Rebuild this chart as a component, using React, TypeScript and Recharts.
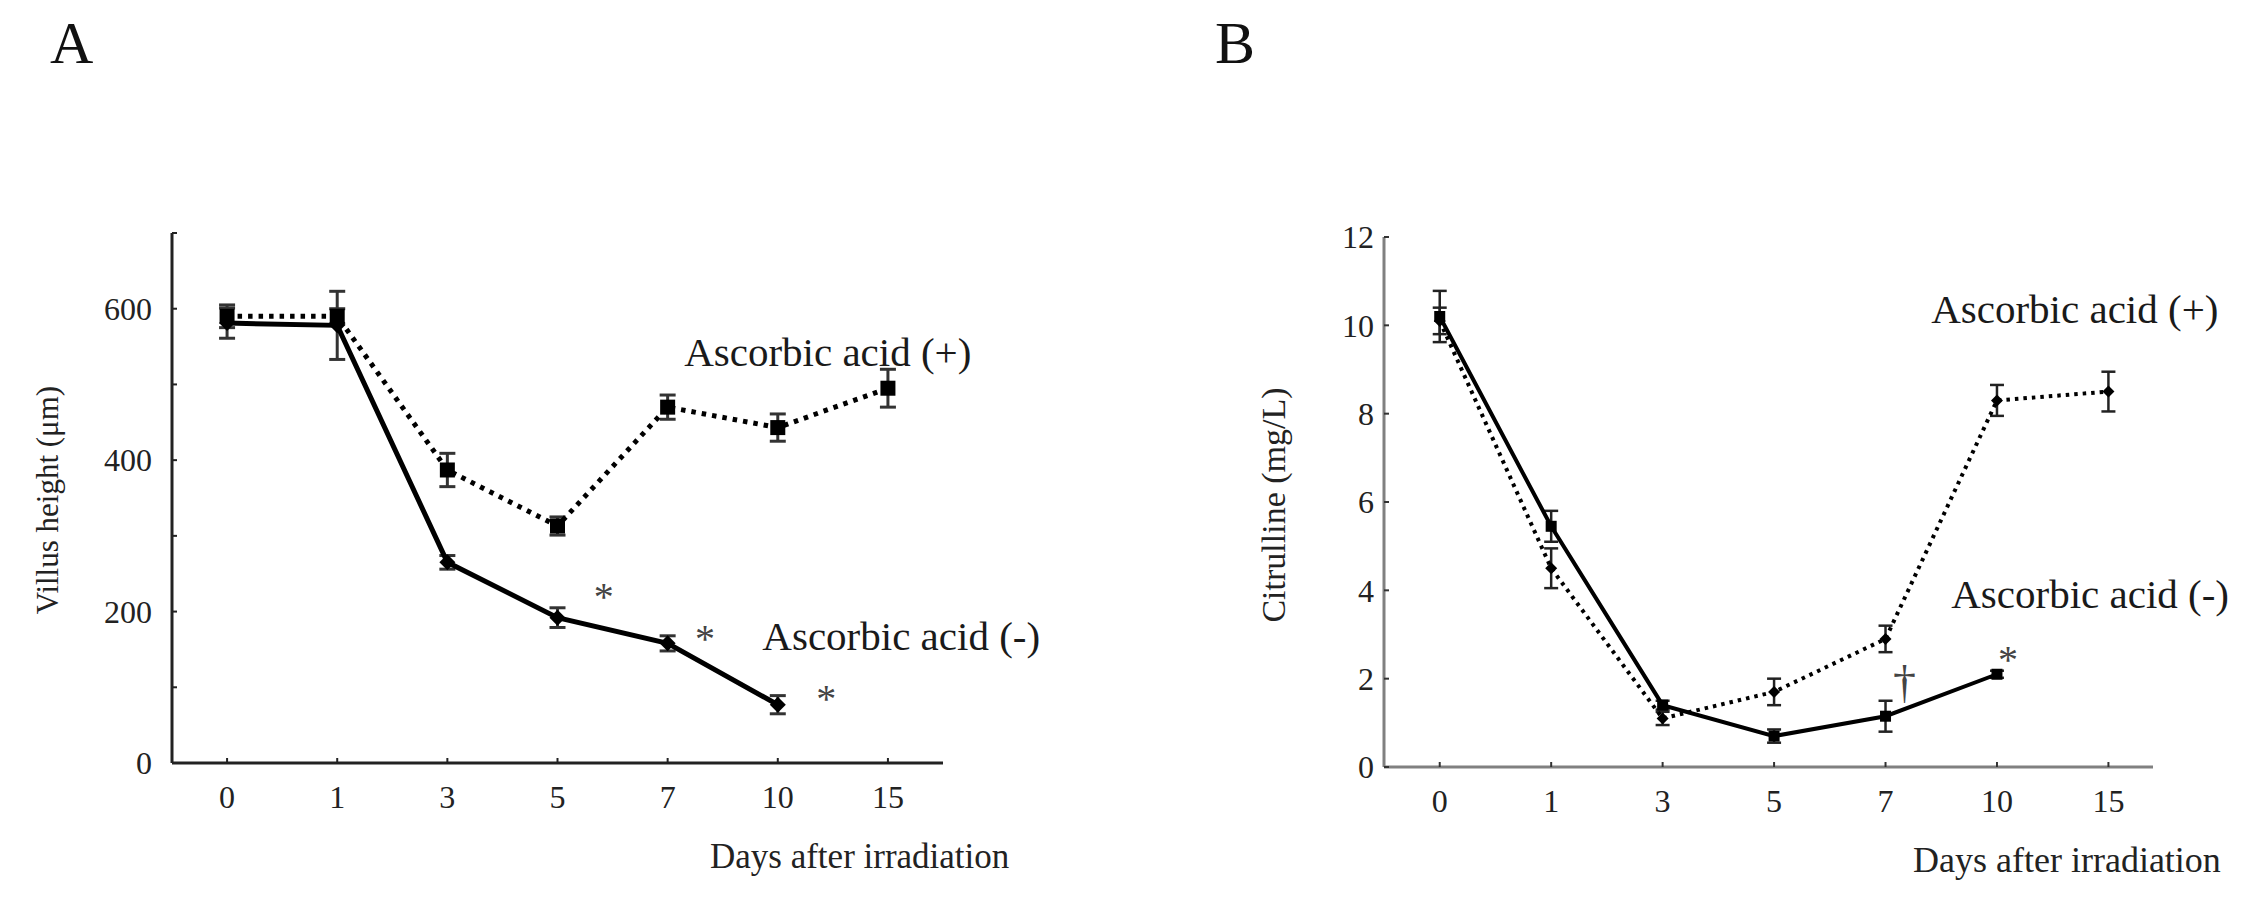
import React from 'react';
import { LineChart, Line, XAxis, YAxis, ErrorBar, ReferenceDot } from 'recharts';

const FONT = '"Liberation Serif", "Times New Roman", serif';

// categories on the x axis (equally spaced)
const days = ['0', '1', '3', '5', '7', '10', '15'];

// panel A: villus height (um)
const villusPlus = [590, 590, 387, 313, 470, 443, 495];
const villusPlusErr = [15, 10, 22, 12, 16, 18, 25];
const villusMinus = [581, 578, 265, 192, 158, 77, null];
const villusMinusErr = [20, 45, 9, 13, 10, 12, null];

// panel B: citrulline (mg/L)
const citPlus = [10.1, 4.5, 1.1, 1.7, 2.9, 8.3, 8.5];
const citPlusErr = [0.3, 0.45, 0.15, 0.3, 0.3, 0.35, 0.45];
const citMinus = [10.2, 5.45, 1.4, 0.7, 1.15, 2.1, null];
const citMinusErr = [0.58, 0.35, 0.1, 0.15, 0.35, 0.08, null];

const villusTicks = [0, 100, 200, 300, 400, 500, 600, 700];
const citTicks = [0, 2, 4, 6, 8, 10, 12];

const buildRows = (plus: number[], plusErr: number[], minus: (number | null)[], minusErr: (number | null)[]) =>
  days.map((day, i) => ({
    idx: i,
    day,
    plus: plus[i],
    plusErr: plusErr[i],
    minus: minus[i],
    minusErr: minusErr[i],
  }));

const villusData = buildRows(villusPlus, villusPlusErr, villusMinus, villusMinusErr);
const citData = buildRows(citPlus, citPlusErr, citMinus, citMinusErr);

const squareDot = (size: number) => (props: any) => {
  const { cx, cy, index } = props;
  if (cx == null || cy == null || props.value == null) return <g key={`s-${index}`} />;
  return <rect key={`s-${index}`} x={cx - size / 2} y={cy - size / 2} width={size} height={size} fill="#000" />;
};

const diamondDot = (size: number) => (props: any) => {
  const { cx, cy, index } = props;
  if (cx == null || cy == null || props.value == null) return <g key={`d-${index}`} />;
  const h = size / 2;
  return (
    <polygon
      key={`d-${index}`}
      points={`${cx},${cy - h} ${cx + h},${cy} ${cx},${cy + h} ${cx - h},${cy}`}
      fill="#000"
    />
  );
};

// y ticks: label left of axis, tiny tick pointing into the plot
const makeYTick = (margin: number, labelled: (v: number) => boolean, tickColor: string) => (props: any) => {
  const { x, y, payload } = props;
  const ax = x + margin;
  return (
    <g>
      <line x1={ax} x2={ax + 5} y1={y} y2={y} stroke={tickColor} strokeWidth={2} />
      {labelled(payload.value) && (
        <text x={x} y={y} dy="0.35em" textAnchor="end" fontFamily={FONT} fontSize={32} fill="#222">
          {payload.value}
        </text>
      )}
    </g>
  );
};

const makeXTick = (margin: number, tickColor: string) => (props: any) => {
  const { x, y, payload } = props;
  const ay = y - margin;
  return (
    <g>
      <line x1={x} x2={x} y1={ay} y2={ay - 5} stroke={tickColor} strokeWidth={2} />
      <text x={x} y={y} dy="0.71em" textAnchor="middle" fontFamily={FONT} fontSize={32} fill="#222">
        {days[payload.value]}
      </text>
    </g>
  );
};

const textShape = (text: string, size: number, anchor: string, shift: number, color = '#1a1a1a') => (p: any) => (
  <text
    x={p.cx}
    y={p.cy + shift * size}
    textAnchor={anchor}
    fontFamily={FONT}
    fontSize={size}
    fill={color}
  >
    {text}
  </text>
);

const PanelA = () => (
  <LineChart
    width={1100}
    height={898}
    data={villusData}
    margin={{ top: 233, right: 157, bottom: 95, left: 112 }}
  >
    <XAxis
      dataKey="idx"
      type="number"
      domain={[-0.5, 6.5]}
      ticks={[0, 1, 2, 3, 4, 5, 6]}
      interval={0}
      height={40}
      tickSize={0}
      tickMargin={22}
      tick={makeXTick(22, '#222')}
      axisLine={{ stroke: '#222', strokeWidth: 3 }}
    />
    <YAxis
      type="number"
      domain={[0, 700]}
      ticks={villusTicks}
      interval={0}
      width={60}
      tickSize={0}
      tickMargin={20}
      tick={makeYTick(20, (v) => v % 200 === 0, '#222')}
      axisLine={{ stroke: '#222', strokeWidth: 3 }}
    />
    <Line
      dataKey="plus"
      stroke="#000"
      strokeWidth={5}
      strokeDasharray="4.5 6"
      dot={squareDot(15)}
      isAnimationActive={false}
    >
      <ErrorBar dataKey="plusErr" direction="y" width={8} stroke="#333" strokeWidth={3} />
    </Line>
    <Line
      dataKey="minus"
      stroke="#000"
      strokeWidth={5}
      dot={diamondDot(16)}
      isAnimationActive={false}
    >
      <ErrorBar dataKey="minusErr" direction="y" width={8} stroke="#333" strokeWidth={3} />
    </Line>
    <ReferenceDot x={4.15} y={524} r={0} ifOverflow="visible" shape={textShape('Ascorbic acid (+)', 41, 'start', 0)} />
    <ReferenceDot x={4.86} y={149} r={0} ifOverflow="visible" shape={textShape('Ascorbic acid (-)', 41, 'start', 0)} />
    <ReferenceDot x={3.42} y={228} r={0} ifOverflow="visible" shape={textShape('*', 40, 'middle', 0.5, '#444')} />
    <ReferenceDot x={4.34} y={173} r={0} ifOverflow="visible" shape={textShape('*', 40, 'middle', 0.5, '#444')} />
    <ReferenceDot x={5.44} y={94} r={0} ifOverflow="visible" shape={textShape('*', 40, 'middle', 0.5, '#444')} />
  </LineChart>
);

const PanelB = () => (
  <LineChart
    width={1131}
    height={898}
    data={citData}
    margin={{ top: 237, right: 108, bottom: 91, left: 194 }}
  >
    <XAxis
      dataKey="idx"
      type="number"
      domain={[-0.5, 6.4]}
      ticks={[0, 1, 2, 3, 4, 5, 6]}
      interval={0}
      height={40}
      tickSize={0}
      tickMargin={22}
      tick={makeXTick(22, '#333')}
      axisLine={{ stroke: '#808080', strokeWidth: 3 }}
    />
    <YAxis
      type="number"
      domain={[0, 12]}
      ticks={citTicks}
      interval={0}
      width={60}
      tickSize={0}
      tickMargin={10}
      tick={makeYTick(10, () => true, '#333')}
      axisLine={{ stroke: '#808080', strokeWidth: 3 }}
    />
    <Line
      dataKey="plus"
      stroke="#000"
      strokeWidth={4}
      strokeDasharray="3.5 5"
      dot={diamondDot(12)}
      isAnimationActive={false}
    >
      <ErrorBar dataKey="plusErr" direction="y" width={7} stroke="#222" strokeWidth={2.5} />
    </Line>
    <Line
      dataKey="minus"
      stroke="#000"
      strokeWidth={4}
      dot={squareDot(11)}
      isAnimationActive={false}
    >
      <ErrorBar dataKey="minusErr" direction="y" width={7} stroke="#222" strokeWidth={2.5} />
    </Line>
    <ReferenceDot x={4.41} y={10.05} r={0} ifOverflow="visible" shape={textShape('Ascorbic acid (+)', 41, 'start', 0)} />
    <ReferenceDot x={4.59} y={3.6} r={0} ifOverflow="visible" shape={textShape('Ascorbic acid (-)', 41, 'start', 0)} />
    <ReferenceDot x={5.1} y={2.58} r={0} ifOverflow="visible" shape={textShape('*', 40, 'middle', 0.5, '#444')} />
    <ReferenceDot x={4.17} y={1.86} r={0} ifOverflow="visible" shape={textShape('†', 46, 'middle', 0.28, '#444')} />
  </LineChart>
);

export default function App() {
  return (
    <div style={{ position: 'absolute', left: 0, top: 0, width: 2261, height: 898, background: '#fff' }}>
      <div style={{ position: 'absolute', left: 0, top: 0 }}>
        <PanelA />
      </div>
      <div style={{ position: 'absolute', left: 1130, top: 0 }}>
        <PanelB />
      </div>
      <svg
        width={2261}
        height={898}
        style={{ position: 'absolute', left: 0, top: 0, pointerEvents: 'none' }}
      >
        <text x={50} y={63} fontFamily={FONT} fontSize={60} fill="#111">A</text>
        <text x={1215} y={63} fontFamily={FONT} fontSize={60} fill="#111">B</text>
        <text
          transform="translate(58, 500) rotate(-90)"
          textAnchor="middle"
          fontFamily={FONT}
          fontSize={31}
          fill="#222"
        >
          Villus height (μm)
        </text>
        <text
          transform="translate(1285, 505) rotate(-90)"
          textAnchor="middle"
          fontFamily={FONT}
          fontSize={34}
          fill="#222"
        >
          Citrulline (mg/L)
        </text>
        <text x={710} y={868} fontFamily={FONT} fontSize={35} fill="#222">Days after irradiation</text>
        <text x={1913} y={872} fontFamily={FONT} fontSize={36} fill="#222">Days after irradiation</text>
      </svg>
    </div>
  );
}
